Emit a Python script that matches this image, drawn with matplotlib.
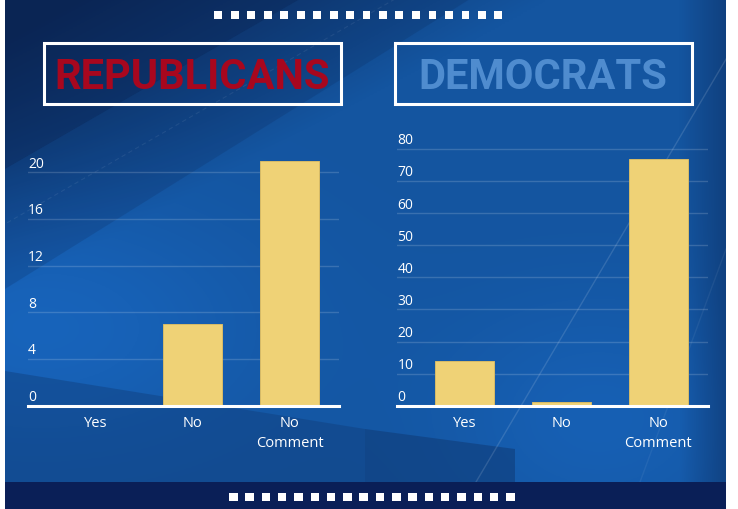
import numpy as np
import matplotlib.pyplot as plt
from matplotlib.patches import Rectangle, Polygon
from matplotlib.colors import to_rgb

# data
categories = ['Yes', 'No', 'No\nComment']
rep_values = [0, 7, 21]
dem_values = [14, 1, 77]
rep_ticks = [0, 4, 8, 12, 16, 20]
dem_ticks = [0, 10, 20, 30, 40, 50, 60, 70, 80]
titles = ['REPUBLICANS', 'DEMOCRATS']
title_colors = ['#a8071e', '#4f8ccf']

W, H = 738, 510
font = 'Open Sans'
bar_color = '#efd276'

fig = plt.figure(figsize=(W / 100, H / 100), dpi=100)
fig.patch.set_facecolor('white')

def fx(px):
    return px / W

def fy(py):
    return 1 - py / H

# background in pixel coordinates
bg = fig.add_axes([fx(5), fy(483), fx(721), 483 / H])
bg.set_xlim(5, 726)
bg.set_ylim(483, 0)
bg.axis('off')

xx, yy = np.meshgrid(np.linspace(5, 726, 361), np.linspace(0, 483, 242))
dark = np.array(to_rgb('#0b2858'))
mid = np.array(to_rgb('#1455a0'))
light = np.array(to_rgb('#1a6dcc'))
t = np.clip((xx * 0.55 + yy - 40) / 260, 0, 1)[..., None]
img = dark * (1 - t) + mid * t
blob = np.exp(-(((xx - 40) / 230) ** 2 + ((yy - 330) / 130) ** 2))[..., None]
img = img * (1 - 0.6 * blob) + light * 0.6 * blob
blob2 = np.exp(-(((xx - 600) / 160) ** 2 + ((yy - 420) / 120) ** 2))[..., None]
img = img * (1 - 0.45 * blob2) + light * 0.45 * blob2
edge = np.clip((xx - 680) / 46, 0, 1)[..., None]
img = img * (1 - 0.45 * edge) + dark * 0.45 * edge
bg.imshow(img, extent=(5, 726, 483, 0), aspect='auto', zorder=0)

bg.add_patch(Polygon([(5, 0), (300, 0), (5, 170)], closed=True,
                     color='#0a2250', alpha=0.45, lw=0, zorder=1))
bg.add_patch(Polygon([(300, 0), (470, 0), (5, 290), (5, 170)], closed=True,
                     color='#0a2250', alpha=0.18, lw=0, zorder=1))
bg.plot([395, 5], [0, 225], color='white', alpha=0.07, lw=0.8, ls=(0, (4, 3)), zorder=1)
bg.add_patch(Polygon([(5, 372), (365, 430), (365, 483), (5, 483)], closed=True,
                     color='#103e7c', alpha=0.45, lw=0, zorder=1))
bg.add_patch(Polygon([(365, 430), (515, 450), (515, 483), (365, 483)], closed=True,
                     color='#0f3a75', alpha=0.55, lw=0, zorder=1))
bg.plot([735, 476], [45, 483], color='white', alpha=0.13, lw=1, zorder=1)
bg.plot([726, 640], [250, 483], color='white', alpha=0.06, lw=1, zorder=1)

# bottom band
fig.patches.append(Rectangle((fx(5), 0), fx(721), 27 / H, transform=fig.transFigure,
                             color='#0a1f57', lw=0, zorder=2))

# dotted rows
for i in range(18):
    fig.patches.append(Rectangle((fx(214 + i * 16.5), fy(20)), fx(8), 8.5 / H,
                                 transform=fig.transFigure, color='white', lw=0, zorder=3))
    fig.patches.append(Rectangle((fx(229 + i * 16.3), fy(502)), fx(8.5), 8.5 / H,
                                 transform=fig.transFigure, color='white', lw=0, zorder=3))

# title boxes
boxes = [(43.5, 341), (395, 691.5)]
for (x0, x1), title, col in zip(boxes, titles, title_colors):
    fig.patches.append(Rectangle((fx(x0), fy(105)), fx(x1 - x0), 60.5 / H,
                                 transform=fig.transFigure, fill=False,
                                 edgecolor='white', lw=2.2, zorder=3))
    fig.text(fx((x0 + x1) / 2), fy(77.5), title, color=col, fontsize=30,
             fontweight='bold', family='Roboto', ha='center', va='center', zorder=4)

def draw_panel(left_px, right_px, ymax, values, ticks):
    ax = fig.add_axes([fx(left_px), fy(406.7), fx(right_px - left_px), (406.7 - 140) / H])
    ax.patch.set_alpha(0)
    x = np.arange(len(categories))
    ax.bar(x, values, width=0.61, color=bar_color, edgecolor='#d8bc66', lw=0.7, zorder=3)
    ax.set_xlim(-0.7, 2.51)
    ax.set_ylim(0, ymax)
    for s in ax.spines.values():
        s.set_visible(False)
    for tk in ticks[1:]:
        ax.axhline(tk, color='white', alpha=0.16, lw=1, zorder=1)
    ax.axhline(0, color='white', lw=2.2, zorder=4, clip_on=False)
    ax.set_yticks([])
    for tk in ticks:
        ax.annotate(str(tk), xy=(0, tk), xycoords=('axes fraction', 'data'),
                    xytext=(0, 4), textcoords='offset points', ha='left', va='baseline',
                    color='white', fontsize=10, family=font, fontweight='medium')
    ax.set_xticks(x)
    ax.set_xticklabels(categories, color='white', fontsize=10.5, family=font,
                       fontweight='medium', linespacing=1.4)
    ax.tick_params(axis='x', length=0, pad=7)
    return ax

draw_panel(28, 339, 22.86, rep_values, rep_ticks)
draw_panel(397.3, 707.7, 83.1, dem_values, dem_ticks)

fig.savefig('out.png', dpi=100)
